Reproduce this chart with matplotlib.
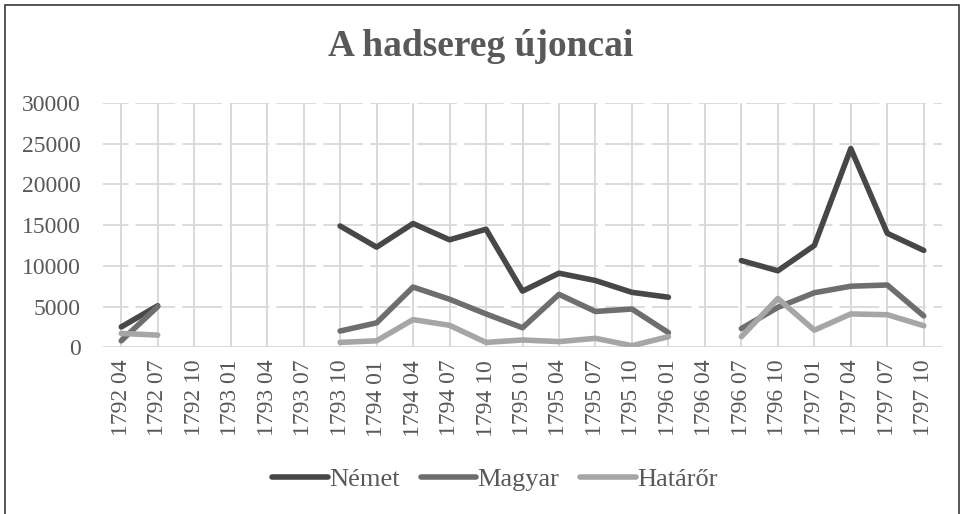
import matplotlib.pyplot as plt
from matplotlib.patches import Rectangle
import numpy as np

nan = np.nan

# negyedeves idopontok (ev + honap)
periods = [
    "1792 04", "1792 07", "1792 10", "1793 01", "1793 04", "1793 07",
    "1793 10", "1794 01", "1794 04", "1794 07", "1794 10", "1795 01",
    "1795 04", "1795 07", "1795 10", "1796 01", "1796 04", "1796 07",
    "1796 10", "1797 01", "1797 04", "1797 07", "1797 10",
]

nemet = [
    2500, 5100, nan, nan, nan, nan,
    14900, 12300, 15200, 13200, 14500, 6900,
    9100, 8200, 6750, 6150, nan, 10650,
    9400, 12500, 24400, 14000, 11900,
]
magyar = [
    800, 5000, nan, nan, nan, nan,
    2000, 3000, 7400, 5900, 4100, 2400,
    6500, 4400, 4700, 1800, nan, 2300,
    4900, 6700, 7500, 7650, 3850,
]
hataror = [
    1700, 1500, nan, nan, nan, nan,
    600, 800, 3400, 2700, 600, 900,
    700, 1100, 200, 1300, nan, 1300,
    6000, 2100, 4100, 4000, 2650,
]

series = [
    ("Német", nemet, "#474747"),
    ("Magyar", magyar, "#6e6e6e"),
    ("Határőr", hataror, "#a6a6a6"),
]

yticks = [0, 5000, 10000, 15000, 20000, 25000, 30000]

W, H = 963, 514
plt.rcParams["font.family"] = ["Liberation Serif", "DejaVu Serif"]

fig = plt.figure(figsize=(W / 100, H / 100), dpi=100)
ax = fig.add_axes([103 / W, 1 - 347.3 / H, (942 - 103) / W, (347.3 - 103) / H])

x = np.arange(len(periods))

# racsvonalak
for xi in x:
    ax.axvline(xi, color="#d0d0d0", lw=1.1, zorder=1)
for yv in yticks[1:]:
    ax.axhline(yv, color="#d9d9d9", lw=1.3, linestyle=(8, (22, 4)), zorder=1)
ax.axhline(0, color="#d9d9d9", lw=1.3, zorder=1)

for name, values, color in series:
    ax.plot(
        x,
        values,
        color=color,
        lw=4.0,
        label=name,
        solid_capstyle="round",
        solid_joinstyle="round",
        zorder=3,
    )

ax.set_xlim(-0.5, len(periods) - 0.5)
ax.set_ylim(0, 30000)
ax.set_xticks(x)
ax.set_xticklabels(periods, rotation=90, fontsize=17, color="#595959")
ax.set_yticks(yticks)
ax.set_yticklabels([str(v) for v in yticks], fontsize=17, color="#595959")
ax.tick_params(axis="x", length=0, pad=9)
ax.tick_params(axis="y", length=0, pad=16)
for spine in ax.spines.values():
    spine.set_visible(False)

fig.text(
    481 / W, 1 - 47 / H, "A hadsereg újoncai",
    ha="center", va="center", fontsize=27, fontweight="bold", color="#595959",
)

fig.legend(
    loc="center",
    bbox_to_anchor=(495 / W, 1 - 479 / H),
    ncol=3,
    frameon=False,
    fontsize=19,
    handlelength=2.1,
    handletextpad=0.05,
    columnspacing=0.8,
    labelcolor="#595959",
)

# kulso keret (also ele kilog a kepbol)
fig.patches.append(
    Rectangle((4.5 / W, -5 / H), 954 / W, 514.5 / H, transform=fig.transFigure,
              fill=False, edgecolor="#3a3a3a", lw=1.2)
)

fig.savefig("out.png", dpi=100)
